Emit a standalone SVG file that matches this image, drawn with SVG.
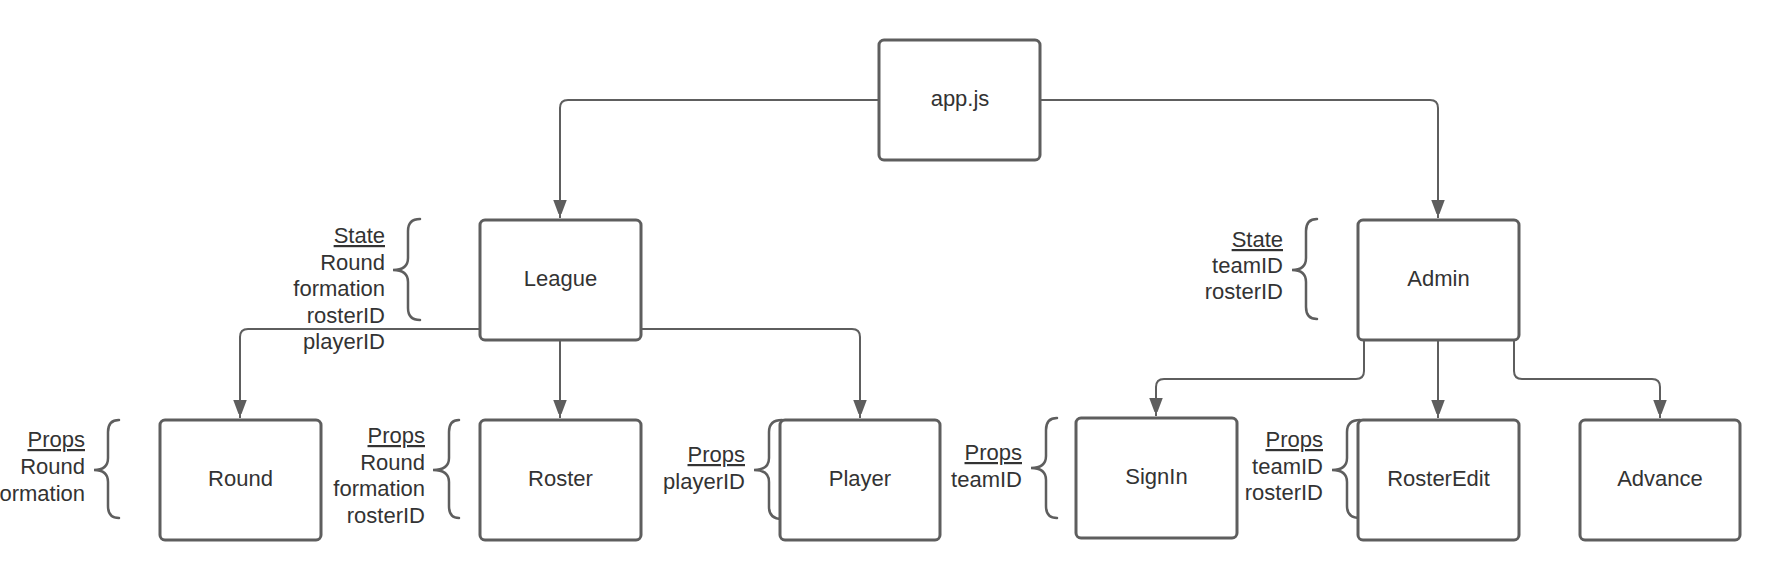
<svg xmlns="http://www.w3.org/2000/svg" width="1780" height="580" viewBox="0 0 1780 580">
<style>
.box{fill:#fff;stroke:#5e5e5e;stroke-width:3}
.lbl{font-family:"Liberation Sans",Arial,sans-serif;font-size:22px;fill:#333;text-anchor:middle;dominant-baseline:central}
.side{font-family:"Liberation Sans",Arial,sans-serif;font-size:22px;fill:#333;text-anchor:end}
.u{text-decoration:underline}
.con{fill:none;stroke:#5e5e5e;stroke-width:2}
.brace{fill:none;stroke:#5e5e5e;stroke-width:2.5;stroke-linecap:round}
</style>
<defs>
<marker id="arr" markerUnits="userSpaceOnUse" markerWidth="14" markerHeight="18" viewBox="0 0 12 16" refX="16" refY="6" orient="auto">
<path d="M0,0 L16,6 L0,12 Z" fill="#5e5e5e"/>
</marker>
</defs>
<rect width="1780" height="580" fill="#fff"/>
<g id="connectors">
<path class="con" d="M879,100 H568 Q560,100 560,108 V218" marker-end="url(#arr)"/>
<path class="con" d="M1040,100 H1430 Q1438,100 1438,108 V218" marker-end="url(#arr)"/>
<path class="con" d="M480,329 H248 Q240,329 240,337 V418" marker-end="url(#arr)"/>
<path class="con" d="M560,340 V418" marker-end="url(#arr)"/>
<path class="con" d="M641,329 H852 Q860,329 860,337 V418" marker-end="url(#arr)"/>
<path class="con" d="M1364,340 V371 Q1364,379 1356,379 H1164 Q1156,379 1156,387 V416" marker-end="url(#arr)"/>
<path class="con" d="M1438,340 V418" marker-end="url(#arr)"/>
<path class="con" d="M1514,340 V371 Q1514,379 1522,379 H1652 Q1660,379 1660,387 V418" marker-end="url(#arr)"/>
</g>
<g id="app">
<rect class="box" x="879" y="40" width="161" height="120" rx="5"/>
<text class="lbl" x="960" y="98">app.js</text>
</g>
<g id="league">
<rect class="box" x="480" y="220" width="161" height="120" rx="5"/>
<text class="lbl" x="560.5" y="278">League</text>
<path class="brace" d="M420,219 Q408,219 408,231 V258 Q408,270 393,270 Q408,270 408,282 V308 Q408,320 420,320"/>
<text class="side" x="385" y="243"><tspan class="u">State</tspan><tspan x="385" dy="26.5">Round</tspan><tspan x="385" dy="26.5">formation</tspan><tspan x="385" dy="26.5">rosterID</tspan><tspan x="385" dy="26.5">playerID</tspan></text>
</g>
<g id="admin">
<rect class="box" x="1358" y="220" width="161" height="120" rx="5"/>
<text class="lbl" x="1438.5" y="278">Admin</text>
<path class="brace" d="M1317,219 Q1306,219 1306,231 V258 Q1306,270 1292,270 Q1306,270 1306,282 V307 Q1306,319 1317,319"/>
<text class="side" x="1283" y="247"><tspan class="u">State</tspan><tspan x="1283" dy="26">teamID</tspan><tspan x="1283" dy="26">rosterID</tspan></text>
</g>
<g id="round">
<rect class="box" x="160" y="420" width="161" height="120" rx="5"/>
<text class="lbl" x="240.5" y="478">Round</text>
<path class="brace" d="M119,420 Q108,420 108,432 V458 Q108,470 94,470 Q108,470 108,482 V506 Q108,518 119,518"/>
<text class="side" x="85" y="447"><tspan class="u">Props</tspan><tspan x="85" dy="27">Round</tspan><tspan x="85" dy="27">formation</tspan></text>
</g>
<g id="roster">
<rect class="box" x="480" y="420" width="161" height="120" rx="5"/>
<text class="lbl" x="560.5" y="478">Roster</text>
<path class="brace" d="M459,420 Q449,420 449,432 V458 Q449,470 433,470 Q449,470 449,482 V506 Q449,518 459,518"/>
<text class="side" x="425" y="443"><tspan class="u">Props</tspan><tspan x="425" dy="26.5">Round</tspan><tspan x="425" dy="26.5">formation</tspan><tspan x="425" dy="26.5">rosterID</tspan></text>
</g>
<g id="player">
<path class="brace" d="M782,420 Q769,420 769,432 V458 Q769,470 754,470 Q769,470 769,482 V507 Q769,519 782,519"/>
<rect class="box" x="780" y="420" width="160" height="120" rx="5"/>
<text class="lbl" x="860" y="478">Player</text>
<text class="side" x="745" y="462"><tspan class="u">Props</tspan><tspan x="745" dy="26.5">playerID</tspan></text>
</g>
<g id="signin">
<rect class="box" x="1076" y="418" width="161" height="120" rx="5"/>
<text class="lbl" x="1156.5" y="476">SignIn</text>
<path class="brace" d="M1057,418 Q1046,418 1046,430 V456 Q1046,468 1031,468 Q1046,468 1046,480 V506 Q1046,518 1057,518"/>
<text class="side" x="1022" y="460"><tspan class="u">Props</tspan><tspan x="1022" dy="26.5">teamID</tspan></text>
</g>
<g id="rosteredit">
<path class="brace" d="M1360,420 Q1347,420 1347,432 V458 Q1347,470 1332,470 Q1347,470 1347,482 V506 Q1347,518 1360,518"/>
<rect class="box" x="1358" y="420" width="161" height="120" rx="5"/>
<text class="lbl" x="1438.5" y="478">RosterEdit</text>
<text class="side" x="1323" y="447"><tspan class="u">Props</tspan><tspan x="1323" dy="26.5">teamID</tspan><tspan x="1323" dy="26.5">rosterID</tspan></text>
</g>
<g id="advance">
<rect class="box" x="1580" y="420" width="160" height="120" rx="5"/>
<text class="lbl" x="1660" y="478">Advance</text>
</g>
</svg>
